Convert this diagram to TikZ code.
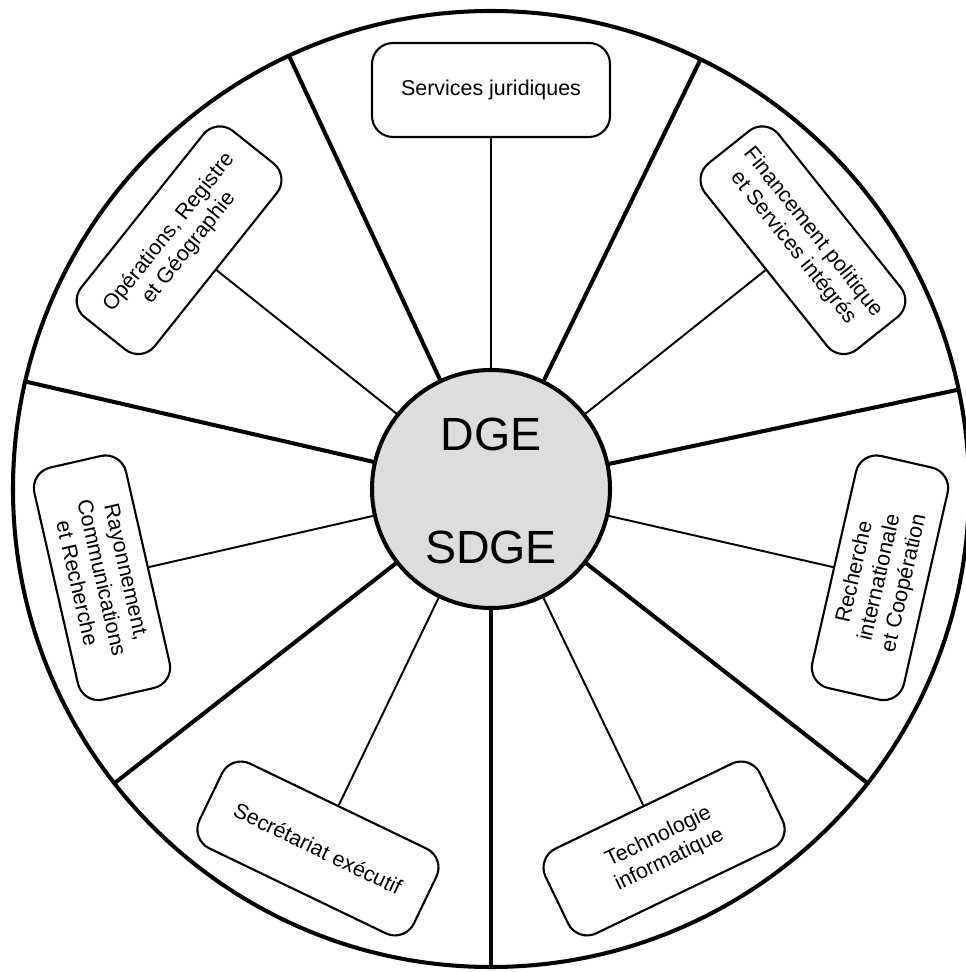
\documentclass[tikz,border=0pt]{standalone}
\usepackage{fontspec}
\setmainfont{Liberation Sans}
\definecolor{hubgray}{RGB}{221,221,223}
\begin{document}
\begin{tikzpicture}[
    unit/.style={draw, line width=1.2pt, rounded corners=0.42cm,
      minimum width=4.76cm, minimum height=1.88cm, inner sep=2pt,
      align=center, font=\fontsize{12.2}{14.4}\selectfont},
    spoke/.style={line width=2.3pt},
    link/.style={line width=1.1pt}]
      \useasboundingbox (-9.82,-9.66) rectangle (9.48,9.78);
      \node[circle, draw, line width=2.3pt, minimum size=19.12cm,
        inner sep=0pt, outer sep=0pt] (wheel) at (0,0) {};
      \node[circle, draw, fill=hubgray, line width=2.3pt, minimum size=4.76cm,
        inner sep=0pt, outer sep=0pt] (hub) at (0,0) {};
      \draw
        (90.00:7.98) node[unit] (jur){Services juridiques}
        (38.57:7.98) node[unit, rotate=-51.43] (fin){Financement politique\\et Services intégrés}
        (-12.86:7.98) node[unit, rotate=77.14] (rec){Recherche\\internationale\\et Coopération}
        (-64.29:7.98) node[unit, rotate=25.71] (tech){Technologie\\informatique}
        (244.29:7.98) node[unit, rotate=-25.71] (sec){Secrétariat exécutif}
        (192.86:7.98) node[unit, rotate=-77.14] (ray){Rayonnement,\\Communications\\et Recherche}
        (141.43:7.98) node[unit, rotate=51.43] (ope){Opérations, Registre\\et Géographie};
      \node[font=\fontsize{26.5}{30}\selectfont] (dge) at (0,1.1) {DGE};
      \node[font=\fontsize{26.5}{30}\selectfont] (sdge) at (0,-1.16) {SDGE};
      % sector borders
      \begin{scope}[spoke]
        \draw (hub.-90.00) to (wheel.-90.00);
        \draw (hub.-38.57) to (wheel.-38.57);
        \draw (hub.12.86) to (wheel.12.86);
        \draw (hub.64.29) to (wheel.64.29);
        \draw (hub.115.71) to (wheel.115.71);
        \draw (hub.167.14) to (wheel.167.14);
        \draw (hub.218.57) to (wheel.218.57);
      \end{scope}
      % links to the units
      \begin{scope}[link]
        \draw (hub) to (jur);
        \draw (hub) to (fin);
        \draw (hub) to (rec);
        \draw (hub) to (tech);
        \draw (hub) to (sec);
        \draw (hub) to (ray);
        \draw (hub) to (ope);
      \end{scope}
    \end{tikzpicture}
\end{document}
